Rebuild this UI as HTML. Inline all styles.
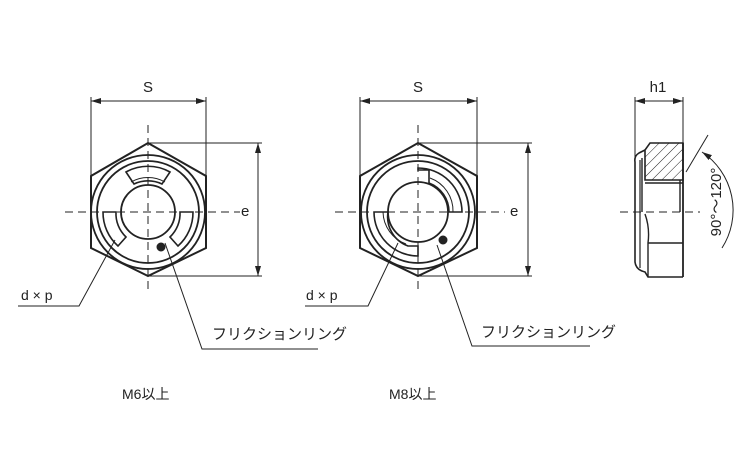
<!DOCTYPE html>
<html><head><meta charset="utf-8"><style>
html,body{margin:0;padding:0;background:#fff;}
svg{display:block;}
text{font-family:"Liberation Sans","Noto Sans CJK JP",sans-serif;fill:#222;}
</style></head><body>
<svg width="750" height="450" viewBox="0 0 750 450" xmlns="http://www.w3.org/2000/svg">
<defs>
<marker id="ar" markerWidth="10" markerHeight="6" refX="10" refY="3" orient="auto-start-reverse" markerUnits="userSpaceOnUse">
<path d="M0,0 L10,3 L0,6 Z" fill="#222"/></marker>
<pattern id="hatch" width="7" height="7" patternUnits="userSpaceOnUse" patternTransform="rotate(45)">
<line x1="0" y1="0" x2="0" y2="7" stroke="#222" stroke-width="1"/></pattern>
</defs>
<g stroke="#222" fill="none" stroke-width="1">
<line x1="91" y1="97" x2="91" y2="176"/><line x1="206" y1="97" x2="206" y2="176"/>
<line x1="91" y1="101" x2="206" y2="101" marker-start="url(#ar)" marker-end="url(#ar)"/>
<line x1="148" y1="143" x2="262" y2="143"/><line x1="148" y1="276" x2="262" y2="276"/>
<line x1="258" y1="143" x2="258" y2="276" marker-start="url(#ar)" marker-end="url(#ar)"/>
<polygon points="148,143 206,176 206,248 148,276 91,248 91,176" stroke-width="2"/>
<circle cx="148" cy="212" r="57" stroke-width="1.8"/>
<circle cx="148" cy="212" r="51" stroke-width="1.8"/>
<circle cx="148" cy="212" r="27" stroke-width="1.8"/>
<path d="M126,172 A45,45 0 0 1 170,172 L162,184 A32,32 0 0 0 134,184 Z" stroke-width="1.6"/>
<path d="M131,182 A34,34 0 0 1 165,182" stroke-width="1"/>
<path d="M103,212 L116,212 A32,32 0 0 0 126,237 L118,246 A45,45 0 0 1 103,212 Z" stroke-width="1.6"/>
<path d="M193,212 L180,212 A32,32 0 0 1 170,237 L178,246 A45,45 0 0 0 193,212 Z" stroke-width="1.6"/>
<circle cx="161" cy="247" r="4" fill="#222"/>
<line x1="65" y1="212" x2="240" y2="212" stroke-dasharray="8,5"/>
<line x1="148" y1="125" x2="148" y2="292" stroke-dasharray="8,5"/>
<polyline points="18,306 79,306 115,240"/>
<polyline points="165,243 202,349 318,349"/>
<line x1="360" y1="97" x2="360" y2="176"/><line x1="477" y1="97" x2="477" y2="176"/>
<line x1="360" y1="101" x2="477" y2="101" marker-start="url(#ar)" marker-end="url(#ar)"/>
<line x1="418" y1="143" x2="532" y2="143"/><line x1="418" y1="276" x2="532" y2="276"/>
<line x1="528" y1="143" x2="528" y2="276" marker-start="url(#ar)" marker-end="url(#ar)"/>
<polygon points="418,143 477,176 477,248 418,276 360,248 360,176" stroke-width="2"/>
<circle cx="418" cy="212" r="57" stroke-width="1.8"/>
<circle cx="418" cy="212" r="51" stroke-width="1.8"/>
<circle cx="418" cy="212" r="30" stroke-width="1.8"/>
<path d="M418,168 A44,44 0 0 1 462,212 L449,212 A31,31 0 0 0 429,183 L429,170 L418,170 Z" stroke-width="1.6"/>
<path d="M430,178 A35,35 0 0 1 453,212" stroke-width="1"/>
<path d="M374,212 A44,44 0 0 0 418,256 L418,246 L408,246 A31,31 0 0 1 388,212 Z" stroke-width="1.6"/>
<path d="M383,212 A35,35 0 0 0 406,244" stroke-width="1"/>
<circle cx="443" cy="240" r="4" fill="#222"/>
<line x1="335" y1="212" x2="505" y2="212" stroke-dasharray="8,5"/>
<line x1="418" y1="125" x2="418" y2="292" stroke-dasharray="8,5"/>
<polyline points="305,306 368,306 398,243"/>
<polyline points="437,245 472,346 590,346"/>
<line x1="635" y1="97" x2="635" y2="160"/><line x1="683" y1="97" x2="683" y2="143"/>
<line x1="635" y1="101" x2="683" y2="101" marker-start="url(#ar)" marker-end="url(#ar)"/>
<path d="M650,143 L683,143 L683,180 L645,180 L645,150 Z" fill="url(#hatch)" stroke-width="1.6"/>
<line x1="683" y1="143" x2="683" y2="277" stroke-width="1.8"/>
<line x1="645" y1="183" x2="683" y2="183" stroke-width="1.4"/>
<path d="M645,150 L639,153 Q634,156 635,162 L635,262 Q636,270 645,272 L648,277 L683,277" stroke-width="1.6"/>
<line x1="640" y1="160" x2="640" y2="268" stroke-width="1.2"/>
<line x1="642" y1="158" x2="642" y2="212" stroke-width="1.4"/>
<line x1="680" y1="180" x2="680" y2="212" stroke-width="1.4"/>
<path d="M645,214 Q650,228 648,243 L648,277" stroke-width="1.4"/>
<line x1="648" y1="243" x2="683" y2="243" stroke-width="1.4"/>
<line x1="620" y1="212" x2="700" y2="212" stroke-dasharray="8,5"/>
<line x1="686" y1="172" x2="708" y2="135"/>
<path d="M722,248 A70,70 0 0 0 702,152" marker-end="url(#ar)"/>
</g>
<g font-size="14">
<text x="148" y="92" text-anchor="middle" font-size="15">S</text>
<text x="418" y="92" text-anchor="middle" font-size="15">S</text>
<text x="658" y="92" text-anchor="middle" font-size="15">h1</text>
<text x="241" y="216" font-size="15">e</text>
<text x="510" y="216" font-size="15">e</text>
<text x="21" y="300">d × p</text>
<text x="306" y="300">d × p</text>
<text x="212" y="339" font-size="15">フリクションリング</text>
<text x="481" y="337" font-size="15">フリクションリング</text>
<text x="122" y="399">M6以上</text>
<text x="389" y="399">M8以上</text>
<text transform="translate(721,202) rotate(-90)" text-anchor="middle" font-size="15">90°～120°</text>
</g>
</svg>
</body></html>
